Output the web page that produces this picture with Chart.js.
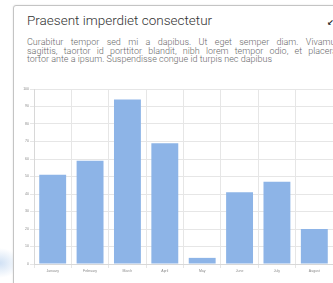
<!DOCTYPE html>
<html>
<head>
<meta charset="utf-8">
<script src="https://cdn.jsdelivr.net/npm/chart.js@4"></script>
<style>
  html, body { margin: 0; padding: 0; width: 333px; height: 283px; overflow: hidden; background: #fff; }
  .glow {
    position: absolute; left: -20px; top: 248px; width: 40px; height: 30px;
    background: radial-gradient(ellipse at center, rgba(170, 200, 235, 0.55), rgba(170, 200, 235, 0) 70%);
  }
  .card {
    position: absolute; left: 13px; top: 5px; width: 360px; height: 300px;
    border: 1px solid #c4c4c4; border-radius: 3px; background: #fff;
    box-shadow: 0 0 2px rgba(0, 0, 0, 0.12);
  }
  .title {
    position: absolute; left: 13px; top: 6px;
    font: 300 13.5px Roboto, sans-serif; color: #333; white-space: nowrap;
  }
  .icon {
    position: absolute; left: 313px; top: 12px;
    font: bold 8px "DejaVu Sans", sans-serif; color: #222;
  }
  .desc {
    position: absolute; left: 13px; top: 32px; width: 313px;
    font: 300 9px/8.5px Roboto, sans-serif; color: #6a6a6a;
  }
  .desc .full { text-align: justify; text-align-last: justify; white-space: nowrap; }
  .chart-box { position: absolute; left: 0px; top: 75px; width: 322px; height: 200px; }
</style>
</head>
<body>
<div class="glow"></div>
<div class="card">
  <div class="title">Praesent imperdiet consectetur</div>
  <div class="icon">&#8601;</div>
  <div class="desc">
    <div class="full">Curabitur tempor sed mi a dapibus. Ut eget semper diam. Vivamus</div>
    <div class="full">sagittis, taortor id porttitor blandit, nibh lorem tempor odio, et placerat</div>
    <div>tortor ante a ipsum. Suspendisse congue id turpis nec dapibus</div>
  </div>
  <div class="chart-box"><canvas id="chart"></canvas></div>
</div>
<script>
  // ---- Data --------------------------------------------------
  const MONTHS = ['January', 'February', 'March', 'April', 'May', 'June', 'July', 'August'];
  const VALUES = [51, 59, 94, 69, 3.5, 41, 47, 20];
  const Y_MIN = 0;
  const Y_MAX = 100;
  const Y_STEP = 10;

  const BAR = '#8db4e7';
  const GRID = '#e6e6e6';
  const TICK = '#8a8a8a';

  new Chart(document.getElementById('chart'), {
    type: 'bar',
    data: {
      labels: MONTHS,
      datasets: [{
        data: VALUES,
        backgroundColor: BAR,
        borderWidth: 0
      }]
    },
    options: {
      responsive: true,
      maintainAspectRatio: false,
      animation: false,
      layout: { padding: { top: 8, right: 3, bottom: 0, left: 0 } },
      plugins: { legend: { display: false }, tooltip: { enabled: false } },
      scales: {
        x: {
          grid: { color: GRID, tickLength: 4 },
          border: { color: '#d8d8d8' },
          ticks: { color: TICK, font: { size: 3.5 }, padding: 1, maxRotation: 0, autoSkip: false },
          afterFit: s => { s.height = 17; }
        },
        y: {
          min: Y_MIN,
          max: Y_MAX,
          grid: { color: GRID, tickLength: 4 },
          border: { color: '#d8d8d8' },
          ticks: { stepSize: Y_STEP, color: TICK, font: { size: 3.5 }, padding: 1 },
          afterFit: s => { s.width = 20; }
        }
      }
    }
  });
</script>
</body>
</html>
